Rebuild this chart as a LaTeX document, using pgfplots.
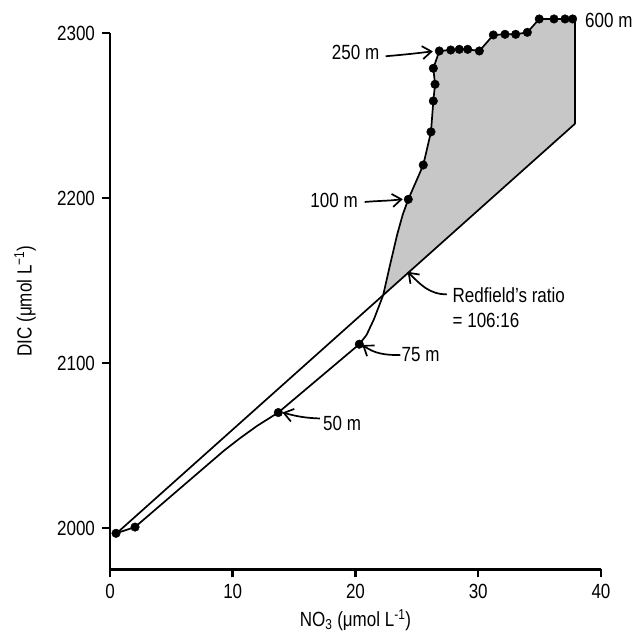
\documentclass[border=0pt]{standalone}
\usepackage{fontspec}
\setmainfont{Liberation Sans}[FakeStretch=0.83]
\usepackage{pgfplots}
\pgfplotsset{compat=1.18}
\usetikzlibrary{arrows.meta}
\definecolor{shade}{RGB}{199,199,199}

\begin{document}
\fontsize{20.5}{24}\selectfont
\begin{tikzpicture}
\path[use as bounding box] (-110pt,-68.7pt) rectangle (524pt,569.3pt);
\begin{axis}[
  at={(0,0)}, anchor=south west,
  scale only axis, width=491pt, height=536.3pt,
  xmin=0, xmax=40, ymin=1975, ymax=2300,
  axis lines=left, axis line style={-, line width=2.5pt},
  xtick={0,10,20,30,40}, ytick={2000,2100,2200,2300},
  tick align=outside, major tick length=8pt,
  tick style={line width=2.5pt, black},
  clip=false,
  xlabel={NO\textsubscript{3} (μmol L\textsuperscript{-1})},
  ylabel={DIC (μmol L\textsuperscript{−1})},
  every axis x label/.style={at={(axis description cs:0.5,-0.0951)}, anchor=center},
  every axis y label/.style={at={(axis description cs:-0.1731,0.5)}, anchor=center, rotate=90},
  /pgf/number format/.cd, 1000 sep={}, assume math mode=true
]
% excess DIC area above the Redfield line
\addplot[fill=shade, draw=none] coordinates {
  (22.25,2141) (22.8,2159) (23.4,2178) (23.85,2190) (24.3,2199.2)
  (25.52,2220.0) (26.15,2240.1) (26.34,2258.8) (26.48,2268.9) (26.34,2278.6)
  (26.83,2289.1) (30.09,2289.1) (31.23,2298.8) (34.0,2300.4) (34.97,2308.5)
  (37.88,2308.5) (37.88,2245)
};
% Redfield ratio line (106:16)
\addplot[line width=1.7pt, black] coordinates {
  (0.49,1996.5) (37.88,2245)
};
% profile
\addplot[line width=1.7pt, black] coordinates {
  (0.49,1996.8) (2.04,2000.6) (9.3,2047) (10.6,2054.5) (12,2062) (13.71,2070.0)
  (20.31,2111.4) (20.9,2117) (21.5,2126.5) (22.25,2141) (22.8,2159) (23.4,2178)
  (23.85,2190) (24.3,2199.2) (25.52,2220.0) (26.15,2240.1) (26.34,2258.8)
  (26.48,2268.9) (26.34,2278.6) (26.83,2289.1) (27.76,2289.7) (28.46,2290.1)
  (29.14,2290.1) (30.09,2289.1) (31.23,2298.8) (32.18,2299.2) (33.05,2299.2)
  (34.0,2300.4) (34.97,2308.5) (36.17,2308.5) (37.07,2308.5) (37.69,2308.5)
  (37.88,2308.5) (37.88,2245)
};
\addplot[only marks, mark=*, mark size=4.3pt, black] coordinates {
  (0.49,1996.8) (2.04,2000.6) (13.71,2070.0) (20.31,2111.4) (24.3,2199.2)
  (25.52,2220.0) (26.15,2240.1) (26.34,2258.8) (26.48,2268.9) (26.34,2278.6)
  (26.83,2289.1) (27.76,2289.7) (28.46,2290.1) (29.14,2290.1) (30.09,2289.1)
  (31.23,2298.8) (32.18,2299.2) (33.05,2299.2) (34.0,2300.4) (34.97,2308.5)
  (36.17,2308.5) (37.07,2308.5) (37.69,2308.5)
};
% annotations
\tikzset{ann/.style={line width=1.7pt, -{Straight Barb[length=9pt,width=13pt,line width=1.7pt]}}}
\draw[ann] (axis cs:22.45,2285.9) to[out=5,in=187] (axis cs:26.3,2288.9);
\node[anchor=east, inner sep=0pt] at (axis cs:21.95,2288) {250 m};
\draw[ann] (axis cs:20.75,2197.6) to[out=5,in=187] (axis cs:23.85,2199.3);
\node[anchor=east, inner sep=0pt] at (axis cs:20.2,2198.7) {100 m};
\node[anchor=west, inner sep=0pt] at (axis cs:38.7,2307.9) {600 m};
\draw[ann] (axis cs:27.45,2141.6) to[out=180,in=-45] (axis cs:24.25,2155.3);
\node[anchor=west, inner sep=0pt] at (axis cs:27.9,2141.1) {Redfield’s ratio};
\node[anchor=west, inner sep=0pt] at (axis cs:27.9,2126.0) {= 106:16};
\draw[ann] (axis cs:23.65,2104.8) to[out=180,in=-35] (axis cs:20.55,2111.0);
\node[anchor=west, inner sep=0pt] at (axis cs:23.75,2105.3) {75 m};
\draw[ann] (axis cs:17.1,2066.4) to[out=178,in=-15] (axis cs:14.05,2070.0);
\node[anchor=west, inner sep=0pt] at (axis cs:17.35,2063.5) {50 m};
\end{axis}
\end{tikzpicture}
\end{document}
